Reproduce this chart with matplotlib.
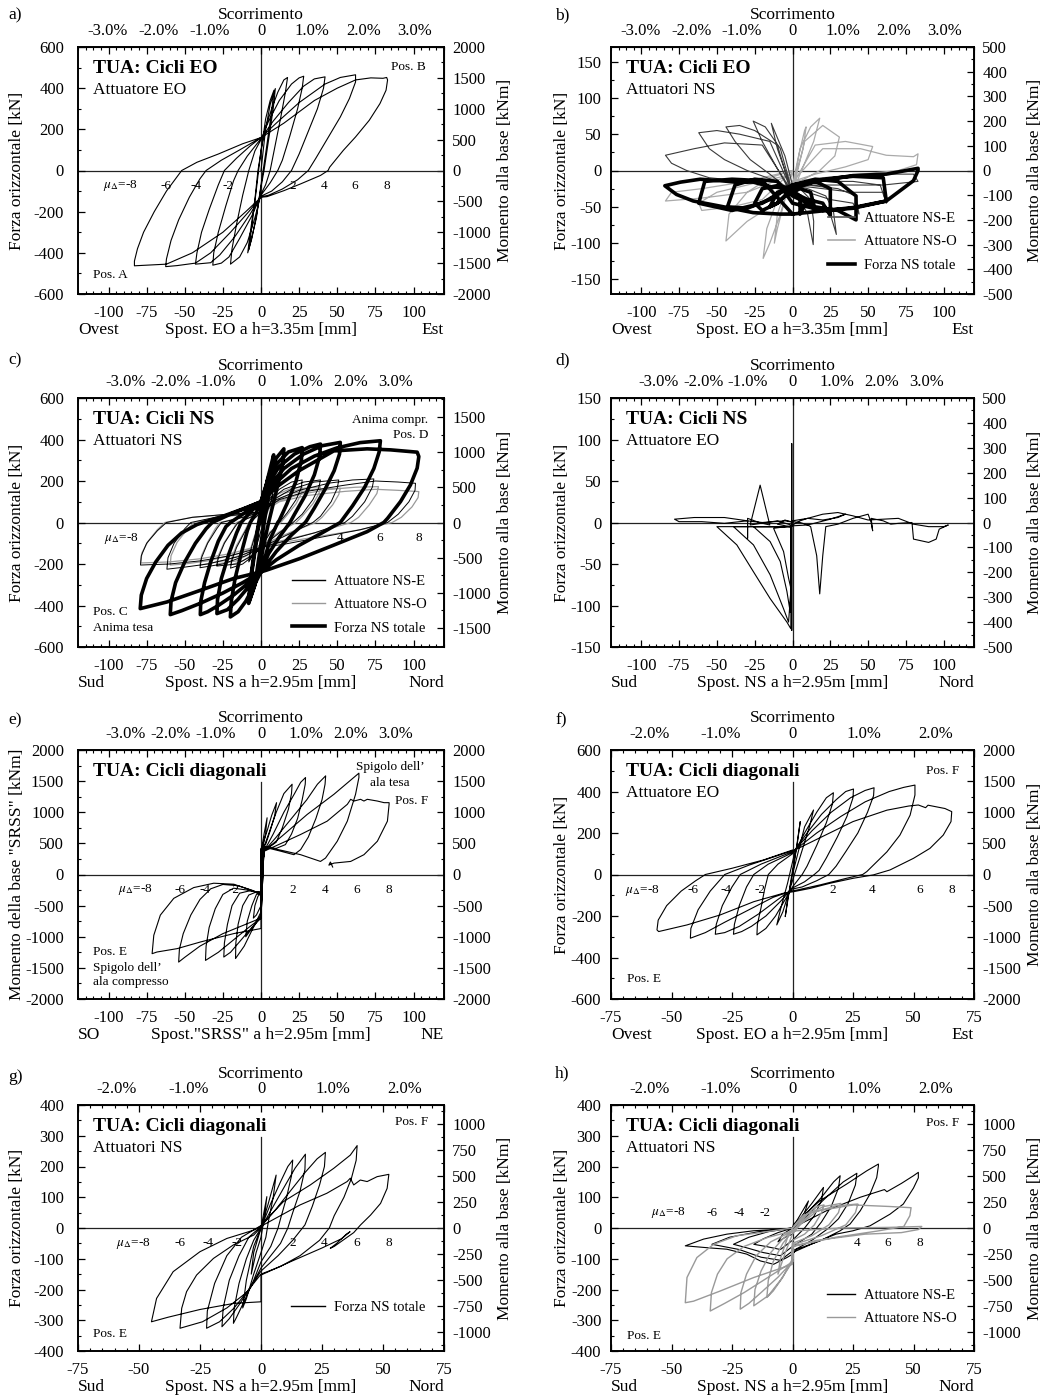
## Cicli isteretici TUA - 8 pannelli (a-h)
import matplotlib
matplotlib.use("Agg")
import matplotlib.pyplot as plt
from matplotlib.ticker import MultipleLocator, AutoMinorLocator
from matplotlib.lines import Line2D

plt.rcParams["font.family"] = ["Liberation Serif", "DejaVu Serif"]
plt.rcParams["mathtext.fontset"] = "stix"
plt.rcParams["axes.unicode_minus"] = False

# ---------------- dati (spostamento mm, forza kN) ----------------

# a) cicli EO, attuatore EO
a_eo = [
    (0, 0), (3, 200), (6, 320), (9.4, 398), (8, 300), (5, 150), (2, 0), (0, -80),
    (-3, -220), (-6, -330), (-8.7, -400), (-7, -300), (-4, -140), (-2, 0), (0, 90),
    (3, 250), (6, 340), (8.5, 390), (7, 290), (3, 80), (0, -70),
    (-3, -230), (-8, -385), (-6, -270), (-3, -90), (0, 100),
    (3, 210), (7, 300), (11, 380), (15, 440), (17.4, 452), (16, 380), (13, 260), (9, 110), (6, 0), (3, -70), (0, -115),
    (-4, -230), (-9, -350), (-14, -420), (-20, -455), (-19, -380), (-16, -260), (-12, -120), (-8, 0), (-4, 95), (0, 150),
    (5, 240), (12, 340), (20, 420), (25, 450), (28, 458), (27, 400), (24, 300), (19, 170), (14, 50), (11, 0), (6, -60), (0, -120),
    (-6, -220), (-14, -330), (-21, -420), (-26, -450), (-31.6, -460), (-31, -400), (-28, -300), (-23, -170), (-18, -50), (-15, 0), (-9, 70), (0, 155),
    (8, 240), (18, 330), (28, 410), (35, 445), (42, 455), (41, 400), (37, 300), (31, 190), (25, 80), (20, 0), (14, -55), (7, -100), (0, -125),
    (-7, -210), (-17, -320), (-27, -410), (-33, -448), (-43, -455), (-42, -400), (-39, -300), (-34, -190), (-28, -70), (-24, 0), (-16, 60), (-7, 120), (0, 160),
    (10, 230), (25, 330), (42, 420), (52, 452), (62, 465), (62, 430), (58, 350), (52, 260), (44, 160), (36, 60), (31, 0), (24, -45), (14, -90), (5, -120), (0, -128),
    (-8, -200), (-20, -300), (-33, -400), (-43, -450), (-55, -462), (-62.5, -467), (-62, -430), (-59, -340), (-54, -240), (-47, -130), (-40, -40), (-36, 0), (-26, 50), (-14, 100), (0, 160),
    (15, 230), (35, 340), (50, 400), (62, 440), (72, 450), (80, 448), (82.4, 452), (83, 440), (82, 390), (78, 325), (71, 244), (62, 163), (54, 98), (45, 16), (44, 0), (39, -24), (26, -65), (15, -98), (4, -127), (0, -130),
    (-10, -200), (-25, -300), (-45, -400), (-62, -455), (-75, -460), (-83, -463), (-83, -440), (-81, -380), (-77, -300), (-70, -200), (-62, -100), (-52, 0), (-42, 40), (-28, 80), (-12, 130), (0, 160),
]

# b) cicli EO, attuatori NS
b_nse = [
    (0, -20), (-5, 20), (-12, 55), (-14, 65), (-10, 30), (-5, 0), (0, -30),
    (-8, 30), (-18, 60), (-26, 68), (-20, 40), (-12, 10), (-4, -20), (0, -35),
    (-10, 35), (-25, 55), (-35, 62), (-44, 60), (-38, 40), (-28, 15), (-15, -5), (0, -30),
    (-15, 40), (-35, 50), (-50, 55), (-62, 52), (-55, 30), (-45, 15), (-30, 0), (-10, -15), (0, -30),
    (-20, 35), (-45, 38), (-65, 30), (-84, 21), (-80, 10), (-70, 0), (-55, -10), (-30, -15), (0, -30),
    (5, -40), (10, -60), (13.7, -102), (14, -70), (12, -40), (5, -25), (0, -20),
    (5, -35), (15, -50), (25, -60), (29, -88), (27, -55), (22, -35), (10, -25), (0, -20),
    (10, -30), (25, -40), (40, -45), (44, -60), (42, -35), (30, -25), (10, -20), (0, -20),
    (20, -25), (40, -30), (60, -30), (62, -45), (58, -20), (40, -15), (20, -15), (0, -20),
    (30, -20), (60, -20), (83, -15), (80, -5), (60, -5), (30, -10), (0, -20),
]
b_nso = [
    (0, -20), (4, 20), (8, 55), (9, 60), (7, 30), (3, 0), (0, -30),
    (5, 30), (12, 60), (18, 72), (14, 40), (8, 10), (2, -20), (0, -30),
    (8, 40), (20, 62), (31, 46), (28, 20), (18, 0), (5, -15), (0, -20),
    (15, 35), (35, 40), (53, 33), (50, 15), (35, 5), (15, -5), (0, -15),
    (20, 30), (45, 30), (62, 21), (80, 19), (83, 23), (82, 8), (70, 0), (45, -5), (20, -10), (0, -15),
    (-5, -40), (-10, -80), (-12, -100), (-10, -60), (-5, -30), (0, 0),
    (-8, -60), (-15, -100), (-19.4, -121), (-17, -80), (-10, -40), (0, -5),
    (-15, -50), (-30, -70), (-44, -97), (-42, -60), (-30, -30), (-15, -10), (0, 0),
    (-20, -40), (-40, -50), (-60, -55), (-62, -45), (-50, -30), (-30, -20), (0, -5),
    (-30, -30), (-60, -38), (-84, -42), (-80, -30), (-60, -25), (-30, -15), (0, 0),
]
b_tot = [
    (0, -30), (5, -35), (5, -60), (10, -40), (15, -55), (12, -30), (5, -25), (0, -30), (-5, -35), (-10, -45), (-15, -50), (-10, -30), (-3, -25),
    (0, -30), (10, -40), (20, -45), (25, -62), (25, -25), (15, -15), (0, -25), (-10, -45), (-20, -55), (-25, -45), (-20, -25), (-8, -20),
    (0, -35), (15, -50), (30, -55), (42, -68), (42, -35), (30, -15), (15, -12), (0, -20), (-15, -40), (-30, -52), (-43, -50), (-38, -20), (-25, -12), (-10, -15),
    (0, -45), (20, -55), (40, -52), (62, -42), (60, -10), (40, -8), (20, -12), (0, -20), (-20, -45), (-40, -55), (-62, -45), (-58, -15), (-40, -12), (-20, -14),
    (0, -60), (18, -56), (40, -51), (62, -42), (80, -14), (83, 0), (83, 3), (62, -5), (40, -7), (18, -14), (0, -23),
    (-13, -23), (-26, -16), (-37, -16), (-48, -14), (-61, -12), (-74, -16), (-84.4, -21),
    (-76.7, -33), (-65.6, -42), (-48, -49), (-26, -58), (-8.4, -60), (0, -60),
]

# c) cicli NS, attuatori NS
c_nse = [
    (0, 0), (4, 100), (8, 160), (7, 110), (3, 30), (0, -40), (-4, -140), (-8, -190), (-7, -140), (-3, -40), (0, 30),
    (0, 50), (5, 110), (12, 160), (20, 195), (27, 205), (26.5, 170), (23, 110), (17, 45), (12, 0), (6, -50), (0, -120),
    (-5, -160), (-12, -200), (-20, -220), (-19, -180), (-16, -120), (-11, -50), (-7, 0), (0, 50),
    (6, 110), (15, 160), (28, 195), (39, 205), (38, 170), (34, 110), (27, 40), (21, 0), (12, -50), (0, -120),
    (-7, -165), (-16, -200), (-29, -210), (-28, -170), (-24, -100), (-18, -30), (-15, 0), (-7, 25), (0, 50),
    (8, 110), (20, 160), (35, 195), (51, 205), (50, 165), (46, 100), (39, 30), (34, 0), (20, -50), (0, -120),
    (-10, -160), (-25, -200), (-40, -218), (-39, -170), (-35, -100), (-29, -30), (-26, 0), (-12, 25), (0, 50),
    (10, 110), (25, 155), (45, 190), (60, 205), (74, 210), (73, 170), (68, 100), (60, 30), (55, 0), (35, -50), (15, -90), (0, -120),
    (-15, -165), (-35, -200), (-50, -215), (-61.7, -225), (-61, -170), (-57, -100), (-50, -30), (-46, 0), (-30, 25), (-12, 40), (0, 50),
    (12, 110), (30, 150), (55, 180), (75, 200), (90, 195), (101.3, 189), (101, 155), (97, 100), (90, 40), (83, 0), (65, -35), (40, -70), (15, -105), (0, -120),
    (-20, -160), (-40, -185), (-60, -200), (-79, -205), (-78.5, -160), (-75, -100), (-68, -40), (-62, 0), (-45, 25), (-22, 40), (0, 50),
]
c_nso = [
    (0, 0), (4, 90), (8, 150), (7, 100), (3, 25), (0, -40), (-4, -130), (-8, -185), (-7, -130), (-3, -35), (0, 25),
    (5, 100), (12, 140), (20, 165), (27, 170), (26.5, 140), (23, 90), (17, 35), (13, 0), (6, -45), (0, -110),
    (-5, -150), (-12, -185), (-20, -205), (-19, -165), (-16, -110), (-11, -45), (-8, 0), (0, 45),
    (6, 100), (15, 140), (28, 165), (39, 172), (38, 140), (34, 90), (27, 30), (23, 0), (12, -45), (0, -110),
    (-7, -150), (-16, -185), (-29, -200), (-28, -160), (-24, -95), (-18, -30), (-16, 0), (-7, 25), (0, 45),
    (8, 100), (20, 140), (35, 160), (52, 165), (51, 135), (47, 85), (40, 25), (36, 0), (20, -45), (0, -110),
    (-10, -150), (-25, -185), (-40, -205), (-39, -160), (-35, -95), (-30, -30), (-27, 0), (-12, 25), (0, 45),
    (10, 100), (25, 135), (45, 160), (62, 170), (77, 173), (76, 140), (71, 85), (64, 25), (59, 0), (38, -45), (15, -85), (0, -110),
    (-15, -150), (-35, -185), (-50, -200), (-59.5, -205), (-59, -160), (-55, -95), (-48, -30), (-44, 0), (-28, 25), (-12, 38), (0, 45),
    (12, 100), (30, 130), (55, 150), (75, 160), (90, 155), (103.5, 149), (103, 120), (99, 75), (92, 25), (86, 0), (65, -35), (40, -65), (15, -95), (0, -110),
    (-20, -150), (-40, -175), (-60, -190), (-79, -195), (-78, -145), (-74, -90), (-68, -35), (-63, 0), (-45, 25), (-22, 38), (0, 45),
]
c_tot = [
    (0, 0), (4, 200), (8.3, 326), (7, 230), (4, 90), (2, 0), (0, -100), (-4, -300), (-8.1, -390), (-7, -290), (-4, -140), (-2, -30), (0, 20),
    (0, 100), (5, 220), (10, 310), (15, 355), (14.5, 290), (11, 180), (7, 60), (5, 0), (2, -100), (0, -180), (-4, -300), (-8, -385), (-7, -280), (-4, -120), (-2, -20), (0, 60),
    (0, 100), (4, 190), (10, 280), (18, 340), (27, 361), (26.5, 300), (23, 200), (17, 90), (12, 10), (11, 0), (6, -80), (0, -238),
    (-5, -310), (-10, -380), (-15, -430), (-20.1, -455), (-19.5, -380), (-17, -270), (-13, -150), (-9, -40), (-7, 0), (-3, 50), (0, 100),
    (5, 190), (12, 270), (22, 330), (32, 365), (39, 378), (38.5, 320), (35, 230), (29, 130), (22, 40), (19, 0), (12, -70), (5, -150), (0, -238),
    (-7, -300), (-15, -370), (-22, -420), (-28.9, -439), (-28.5, -370), (-26, -270), (-21, -150), (-16, -50), (-13, 0), (-7, 50), (0, 100),
    (6, 180), (15, 260), (28, 330), (40, 370), (52, 386), (51.5, 330), (48, 250), (42, 160), (35, 70), (30, 10), (29, 0), (20, -60), (10, -140), (0, -238),
    (-8, -290), (-18, -350), (-28, -400), (-35, -430), (-39.8, -444), (-39.5, -380), (-37, -290), (-33, -190), (-28, -90), (-23, -20), (-20, 0), (-12, 40), (0, 100),
    (8, 180), (20, 260), (35, 320), (50, 360), (65, 385), (78.3, 394), (77.5, 340), (74, 260), (68, 170), (60, 80), (54, 20), (52, 0), (40, -50), (25, -110), (10, -180), (0, -238),
    (-12, -290), (-25, -340), (-40, -390), (-52, -425), (-59.5, -444), (-59, -380), (-56, -290), (-50, -190), (-43, -100), (-36, -30), (-32, 0), (-20, 40), (-8, 75), (0, 100),
    (10, 170), (25, 250), (47.7, 345), (69.6, 355), (85, 350), (102.4, 339), (103.5, 318), (102.4, 262), (98, 181), (91.5, 101), (83, 20), (80.5, 0),
    (69.6, -44), (47.7, -109), (25.8, -173), (3.9, -229), (0, -238),
    (-18, -270), (-39.8, -327), (-61.7, -383), (-79.2, -415), (-78.5, -350), (-75, -270), (-69, -190), (-61, -110), (-52, -50), (-42, -10), (-38, 0), (-25, 30), (-12, 65), (0, 100),
]

# d) cicli NS, attuatore EO
d_eo = [
    (0, 0), (-5, 3), (-10, -2), (-2, -5), (5, 2), (10, 5), (20, 3), (30, 6), (35, 10), (25, 4), (10, -3), (0, -4),
    (-0.5, -4), (-0.5, 95), (-0.5, -130), (-0.5, -4),
    (-12.5, -7), (-5.9, -35), (-2.6, -67), (-1, -80), (-1, -5),
    (-25.8, -5), (-14.8, -23), (-8.1, -47), (-3.7, -83), (-1.5, -108), (-1, -60), (-1, -5),
    (-39, -5), (-25.8, -27), (-14.8, -63), (-5.9, -104), (-2.6, -120), (-1, -80), (-1, -5),
    (-50, -5), (-36.8, -27), (-25.8, -59.4), (-14.8, -91.6), (-3.7, -120), (-1.1, -128), (-1, -90), (-1, -3),
    (-10, 2), (-28, -3), (-21.4, 45), (-15, -3), (-22, 0), (-29.7, 5), (-29.7, -19), (-29.7, 2),
    (-45, 6), (-65, 6), (-78, 4), (-75, 1), (-60, 1), (-45, -1), (-30, 2), (-20, 0), (-5, 2),
    (5, 0), (10, -3), (12, -5), (16, -40), (18, -86), (20, -40), (22, -5), (30, -2), (40, 5), (50, 10), (52, 0), (53, -10), (52, 5),
    (60, 2), (65, -2), (70, -1), (79, 0), (80, -20), (85, -22), (90, -24), (95, -20), (97, -8), (103, -3), (100, -5),
    (90, -5), (80, -2), (70, 5), (60, 4), (50, 3), (40, 8), (30, 12), (20, 10), (10, 5), (0, 2),
]

# e) cicli diagonali, momento SRSS [kNm]
e_srss = [
    (0, 0), (0, 350), (2, 650), (4, 911), (3, 650), (1, 420), (0, 400), (0, -500), (-3, -650), (-5, -700), (-4, -500), (-2, -350), (0, -300),
    (0, 400), (4, 700), (7, 950), (10.2, 1154), (9, 950), (6, 700), (3, 480), (0, 420),
    (0, -600), (-4, -800), (-10, -1000), (-9, -750), (-6, -500), (-3, -320), (0, -300),
    (1, 380), (5, 650), (10, 1000), (15, 1300), (20.4, 1450), (20, 1300), (18, 1050), (14, 750), (10, 520), (6, 450), (1, 440),
    (0, -650), (-5, -850), (-11, -1150), (-16.7, -1350), (-16.5, -1100), (-15, -800), (-12, -500), (-8, -330), (-3, -280), (0, -280),
    (1.9, 372), (8, 650), (15, 1000), (22, 1300), (26, 1480), (29.2, 1558), (29, 1450), (27, 1200), (24, 900), (20, 650), (16, 480), (10, 420), (2, 430),
    (0, -700), (-6, -850), (-13, -1050), (-20, -1250), (-24.4, -1326), (-24, -1100), (-22, -800), (-19, -500), (-14, -300), (-7, -260), (0, -290),
    (1.9, 372), (10, 600), (20, 900), (30, 1200), (37, 1450), (42.4, 1585), (42, 1450), (40, 1200), (36, 900), (31, 600), (26, 400), (21.6, 318), (12, 380), (2, 440),
    (0, -700), (-8, -850), (-18, -1050), (-28, -1250), (-36.4, -1380), (-36, -1150), (-34, -850), (-30, -550), (-25, -320), (-18, -220), (-9, -250), (0, -300),
    (1.9, 372), (15, 642), (30.3, 965), (47.8, 1288), (60.9, 1558), (64.2, 1628), (64.2, 1558), (62, 1288), (56.6, 857), (50, 534), (42.3, 264), (39, 210), (26, 318), (15, 380), (2, 450),
    (0, -700), (-10, -800), (-25, -950), (-40, -1150), (-50, -1330), (-54, -1407), (-53.5, -1200), (-51, -950), (-46, -650), (-40, -400), (-33, -230), (-25, -160), (-15, -180), (-5, -260), (0, -320),
    (0, -868), (-17.8, -949), (-39.7, -1084), (-55, -1191), (-68.2, -1245), (-71.4, -1272), (-70.3, -976), (-66, -652), (-57.2, -383), (-44.1, -210), (-31, -140), (-17.8, -156), (-6.9, -248), (0, -329),
    (1.9, 372), (25.9, 642), (43.4, 857), (56.6, 1127), (58.8, 1208), (61, 1180), (65.3, 1208), (67.5, 1180), (69.7, 1208), (76.3, 1180), (80.7, 1154), (84, 1154),
    (84, 1127), (82.9, 857), (76.3, 534), (67.5, 318), (58.8, 210), (47.8, 183), (44.5, 150), (45.5, 200), (47, 120),
]

# f) cicli diagonali, attuatore EO
f_eo = [
    (0, 0), (3.2, 255), (2, 150), (0, 20), (-3, -203), (-2, -120), (0, 0),
    (5, 230), (8.7, 311), (7, 230), (3, 80), (0, -30), (-4, -180), (-6.5, -243), (-5, -170), (-2, -40), (0, 60),
    (1, 110), (5, 200), (10, 300), (14, 370), (16.9, 394), (16.5, 340), (14, 250), (10, 140), (6, 40), (4, 0), (0, -60),
    (-3, -120), (-7, -200), (-11, -260), (-14.7, -291), (-14.5, -240), (-13, -160), (-11.5, -70), (-10, 0), (-6, 50), (0, 100),
    (1, 118), (6, 200), (12, 290), (18, 360), (22, 400), (25.2, 412), (25, 370), (22.5, 280), (18.5, 180), (14, 80), (11, 20), (9, 0), (5, -35), (0, -65),
    (-5, -130), (-11, -200), (-17, -250), (-21, -275), (-24.4, -288), (-24, -240), (-22, -150), (-19, -60), (-16, 0), (-10, 50), (0, 105),
    (1, 118), (8, 210), (16, 300), (24, 370), (30, 405), (33.7, 418), (33.5, 380), (31, 300), (27, 200), (22, 110), (18, 40), (15, 0), (10, -30), (4, -60), (0, -70),
    (-6, -120), (-14, -190), (-22, -250), (-28, -280), (-31.9, -288), (-31.5, -240), (-29, -150), (-25, -60), (-21.6, 0), (-13, 50), (0, 110),
    (1, 118), (10, 200), (20, 280), (30, 350), (40, 400), (46, 420), (50.6, 431), (50.6, 383), (48.6, 286), (44.4, 190), (39, 109), (33.4, 45), (30.7, 14), (29, 0),
    (22.4, -18), (11.4, -50), (1.8, -75), (0, -78),
    (-8, -110), (-18, -170), (-28, -230), (-36, -280), (-42.2, -307), (-42, -260), (-39, -170), (-34, -80), (-28, 0), (-18, 45), (0, 115),
    (1, 118), (11, 175), (25, 255), (39, 310), (48, 330), (52, 335), (55, 322), (56, 334), (60, 325), (63, 318), (65.8, 303),
    (65.5, 255), (62.3, 190), (56.8, 126), (50, 78), (40.3, 22), (33.4, -2), (25.2, -18), (15.6, -42), (7.3, -67), (0.4, -83),
    (-3.7, -90), (-16, -131), (-29.9, -195), (-43.6, -243), (-55.3, -275), (-56, -267),
    (-55.5, -220), (-52, -150), (-46, -80), (-40, -30), (-36, 0), (-25, 30), (-12, 70), (0, 118),
]

# g) cicli diagonali, forza NS totale
g_ns = [
    (0, 0), (2.4, 102), (1.5, 40), (0, -30), (-2, -80), (-4, -150), (-3, -80), (0, 0),
    (3, 80), (6.2, 172), (5, 100), (3, 20), (2, -30), (0, -80),
    (-3, -150), (-6, -230), (-7.5, -260), (-6, -170), (-3, -60), (0, 0),
    (4, 80), (8, 150), (11, 200), (13, 221), (12.5, 170), (10.5, 100), (8, 30), (7, 0), (4, -60), (0, -110),
    (-3, -170), (-7, -240), (-10, -290), (-11.3, -310), (-11, -260), (-9, -180), (-6, -100), (-3, -40), (0, 0),
    (5, 70), (10, 140), (14, 195), (18.2, 240), (18, 190), (16, 120), (13, 50), (11, 0), (8, -50), (3, -100), (0, -130),
    (-4, -190), (-9, -250), (-13, -295), (-16, -321), (-15.5, -260), (-13, -170), (-9, -90), (-5, -30), (0, 5),
    (6, 60), (12, 120), (18, 180), (23, 225), (26.4, 246), (26, 200), (24, 140), (21, 70), (18, 10), (17, 0), (13, -40), (7, -90), (0, -140),
    (-5, -200), (-11, -260), (-17, -305), (-22.3, -326), (-22, -270), (-19, -180), (-14, -90), (-8, -30), (0, 8),
    (9.2, 86), (20.2, 140), (29.8, 194), (36.6, 237), (39.4, 268), (39, 220), (37, 160), (34, 100), (30, 40), (28, 0), (24, -40), (16, -90), (8, -125), (0, -150),
    (-6, -210), (-14, -260), (-24, -305), (-33.2, -326), (-32.5, -261), (-30.5, -207), (-26.4, -153), (-19.5, -99), (-11.3, -55), (-3, -23), (1, 10),
    (16, 75), (27, 113), (35.3, 151), (36.6, 162), (38, 140), (40.7, 156), (43.5, 151), (47.6, 167), (52.4, 174.5),
    (51.7, 129), (49, 80), (44.9, 42), (40.8, 10), (38, -15), (30, -60), (28.4, -66), (31, -50), (35, -20), (36.5, -12), (33, -35),
    (25, -65), (12, -110), (0, -153),
    (0, -240), (-11, -245), (-25, -265), (-38, -290), (-44.9, -305), (-42.8, -229), (-36, -142), (-25, -77), (-14, -34), (-3, -7), (1, 10),
]

# h) cicli diagonali, attuatori NS
h_nse = [
    (0, 0), (3, 40), (6.6, 88), (5, 50), (2, 10), (0, -20), (-3, -30), (-6, -45), (-4, -20), (0, 0),
    (4, 40), (8, 80), (12.8, 132), (12, 90), (9, 40), (5, 0), (0, -40),
    (-5, -70), (-11, -60), (-16, -53), (-12, -35), (-6, -15), (0, 0),
    (5, 40), (12, 100), (17, 150), (19.7, 170), (19, 130), (16, 70), (12, 20), (8, -20), (0, -60),
    (-5, -90), (-12, -80), (-20, -62), (-24.4, -53), (-18, -30), (-10, -12), (0, 0),
    (6, 40), (14, 100), (21, 150), (26.6, 178), (26, 140), (23, 80), (19, 30), (15, 0), (8, -40), (0, -75),
    (-5, -105), (-13, -95), (-22, -70), (-33.3, -53), (-26, -30), (-14, -12), (0, 0),
    (0.4, 12), (11.4, 89), (22.4, 143), (30.7, 186), (35.5, 208), (35.5, 202), (34.8, 164), (32, 110), (28, 56), (23.8, 13), (19.7, -9), (11.4, -42), (1.8, -69), (0, -85),
    (-2.3, -96), (-7.8, -118), (-13.3, -107), (-18.9, -85), (-27.1, -69), (-35.4, -64), (-44.3, -58),
    (-36.7, -36), (-27.1, -20), (-16.1, -9), (-5.1, -4), (0, 0),
    (15, 60), (28, 100), (38, 125), (39, 118), (45, 145), (50, 170), (52, 181), (52, 163), (50, 130), (45.8, 78), (40.3, 45), (32, 7), (25, -9), (18, -20), (10, -45), (0, -80),
]
h_nso = [
    (0, 0), (3, 30), (5, 45), (3, 10), (0, -20), (-3, -80), (-6, -150), (-5, -100), (-2, -30), (0, 0),
    (5, 40), (10, 70), (13, 75), (12, 50), (9, 10), (5, -20), (0, -40), (0, -100),
    (-4, -160), (-8, -205), (-10.6, -226), (-10, -170), (-8, -110), (-4, -50), (0, -10),
    (6, 45), (13, 70), (20, 80), (19, 50), (15, 10), (8, -25), (0, -50), (0, -110),
    (-5, -170), (-10, -220), (-16, -253), (-15.5, -200), (-13, -140), (-9, -80), (-4, -35), (0, -10),
    (8, 50), (18, 72), (27, 78), (26, 50), (22, 10), (12, -25), (0, -55), (0, -110),
    (-6, -160), (-13, -210), (-18, -245), (-21.6, -264), (-21.3, -210), (-19, -150), (-15, -90), (-9, -45), (0, -10),
    (10, 55), (25, 75), (40, 70), (49, 66), (48.5, 40), (46, 5), (35, -10), (18, -30), (0, -60), (0, -110),
    (-10, -160), (-20, -210), (-28, -245), (-34, -270), (-33.5, -210), (-31, -150), (-27, -100), (-20, -60), (-10, -30), (0, -10),
    (20, 0), (40, 2), (53.4, 5), (52, -5), (45, -15), (30, -20), (10, -40), (0, -60), (0, -118),
    (-16, -161), (-29.9, -205), (-40.9, -238), (-44.3, -243), (-43.6, -161), (-39.5, -96), (-32.6, -53), (-23, -25), (-13.3, -15), (-3.7, -4), (0, 0),
]

# etichette duttilita' (posizione x in mm)
a_mu = [-62.5, -42.3, -21.6, 21, 41.4, 61.6, 82.4]
c_mu = [52, 77.7, 103.5]
e_mu = [-52.8, -36.4, -17.8, 21, 42.3, 63, 84]
f_mu = [-41, -27.4, -13.6, 16.5, 33, 52.7, 65.8]
g_mu = [-33.2, -21.6, -9.9, 13, 26, 39.4, 52.4]
h_mu_neg = [-33.3, -22.3, -11.3]
h_mu_pos = [26.6, 39.4, 52.7]
mu_txt = ["-6", "-4", "-2", "2", "4", "6", "8"]

PCT3 = [-3, -2, -1, 0, 1, 2, 3]
PCT2 = [-2, -1, 0, 1, 2]

W, H = 1045, 1398


def trace(ax, pts, **kw):
    xs = [p[0] for p in pts]
    ys = [p[1] for p in pts]
    ax.plot(xs, ys, solid_joinstyle="round", **kw)


def pct_label(p):
    return "0" if p == 0 else "%.1f%%" % p


def frame(ax, xmax, ymax, ystep, ratio, rmax, rstep, h, pct, xlabel, west, east,
          ylabel, rlabel, vtop, left_col):
    ax.set_xlim(-xmax, xmax)
    ax.set_ylim(-ymax, ymax)
    ax.xaxis.set_major_locator(MultipleLocator(25))
    ax.xaxis.set_minor_locator(MultipleLocator(5))
    ax.yaxis.set_major_locator(MultipleLocator(ystep))
    ax.yaxis.set_minor_locator(AutoMinorLocator(2))
    ax.tick_params(which="both", direction="in", top=True, right=False, labelsize=12)
    ax.tick_params(which="major", length=5, width=0.9)
    ax.tick_params(which="minor", length=2.5, width=0.8)
    ax.tick_params(axis="x", pad=8)
    ax.tick_params(axis="y", pad=10 if left_col else 7)
    for s in ax.spines.values():
        s.set_linewidth(1.4)
    ax.axhline(0, color="#222222", lw=0.9, zorder=1)
    ax.axvline(0, ymax=vtop, color="#222222", lw=0.9, zorder=1)

    top = ax.secondary_xaxis("top", functions=(lambda x: x / (h * 10), lambda p: p * h * 10))
    top.set_xticks(pct, labels=[pct_label(p) for p in pct])
    top.tick_params(length=0, labelsize=12, pad=6)
    ax.text(0.5, 1.128, "Scorrimento", transform=ax.transAxes, ha="center", va="center", fontsize=12.5)

    right = ax.secondary_yaxis("right", functions=(lambda f: f * ratio, lambda m: m / ratio))
    rt = list(range(-rmax, rmax + 1, rstep))
    right.set_yticks(rt)
    right.yaxis.set_minor_locator(AutoMinorLocator(2))
    right.tick_params(which="both", direction="in", labelsize=12, pad=6)
    right.tick_params(which="major", length=5, width=0.9)
    right.tick_params(which="minor", length=2.5, width=0.8)
    if rlabel:
        ax.text(1.167, 0.5, rlabel, transform=ax.transAxes, rotation=90,
                ha="center", va="center", fontsize=12.5)

    ax.text(-0.167 if left_col else -0.136, 0.5, ylabel, transform=ax.transAxes, rotation=90,
            ha="center", va="center", fontsize=12.5)
    ax.text(0.5, -0.145, xlabel, transform=ax.transAxes, ha="center", va="center", fontsize=12.5)
    ax.text(0.0, -0.145, west, transform=ax.transAxes, ha="left", va="center", fontsize=12.5)
    ax.text(1.0, -0.145, east, transform=ax.transAxes, ha="right", va="center", fontsize=12.5)


def titles(ax, title, sub):
    ax.text(0.042, 0.912, title, transform=ax.transAxes, fontsize=14, fontweight="bold", va="center")
    if sub:
        ax.text(0.042, 0.826, sub, transform=ax.transAxes, fontsize=12.5, va="center")


def note(ax, x, y, s, ha="left"):
    ax.text(x, y, s, transform=ax.transAxes, fontsize=9.5, ha=ha, va="center")


def mu_labels(ax, xs, txt, y, x8):
    for x, t in zip(xs, txt):
        ax.text(x, y, t, fontsize=9.5, ha="center", va="center")
    if x8 is not None:
        ax.text(x8, y, r"$\mu_\Delta$=-8", fontsize=9.5, ha="right", va="center")


def legend(ax, items, x, y, hl):
    hs = [Line2D([], [], color=c, lw=lw) for c, lw, _ in items]
    ax.legend(hs, [t for _, _, t in items], loc="lower right", bbox_to_anchor=(x, y),
              frameon=False, fontsize=10.5, handlelength=hl, handletextpad=0.6,
              labelspacing=0.7, borderaxespad=0, borderpad=0)


fig = plt.figure(figsize=(W / 100, H / 100), dpi=100)

cols = [78, 611]
widths = [366, 363]
rows = [(47, 294), (398, 647), (750, 999), (1105, 1351)]
axs = []
for top_px, bot_px in rows:
    for c in range(2):
        axs.append(fig.add_axes([cols[c] / W, 1 - bot_px / H, widths[c] / W, (bot_px - top_px) / H]))
ax_a, ax_b, ax_c, ax_d, ax_e, ax_f, ax_g, ax_h = axs

FO = "Forza orizzontale [kN]"
MB = "Momento alla base [kNm]"

# a)
frame(ax_a, 120, 600, 200, 2000 / 600, 2000, 500, 3.35, PCT3, "Spost. EO a h=3.35m [mm]", "Ovest", "Est", FO, MB, 1.0, True)
trace(ax_a, a_eo, color="black", lw=0.8)
titles(ax_a, "TUA: Cicli EO", "Attuatore EO")
note(ax_a, 0.95, 0.92, "Pos. B", "right")
note(ax_a, 0.042, 0.077, "Pos. A")
mu_labels(ax_a, a_mu, mu_txt, -73, -81)

# b)
frame(ax_b, 120, 170, 50, 500 / 170, 500, 100, 3.35, PCT3, "Spost. EO a h=3.35m [mm]", "Ovest", "Est", FO, MB, 1.0, False)
trace(ax_b, b_nso, color="#aaaaaa", lw=0.9)
trace(ax_b, b_nse, color="#3a3a3a", lw=0.8)
trace(ax_b, b_tot, color="black", lw=2.6)
titles(ax_b, "TUA: Cicli EO", "Attuatori NS")
legend(ax_b, [("#555555", 1.2, "Attuatore NS-E"), ("#aaaaaa", 1.2, "Attuatore NS-O"), ("black", 2.6, "Forza NS totale")], 0.953, 0.09, 1.9)

# c)
frame(ax_c, 120, 600, 200, 2.95, 1500, 500, 2.95, PCT3, "Spost. NS a h=2.95m [mm]", "Sud", "Nord", FO, MB, 1.0, True)
trace(ax_c, c_nso, color="#999999", lw=0.9)
trace(ax_c, c_nse, color="black", lw=0.7)
trace(ax_c, c_tot, color="black", lw=2.6)
titles(ax_c, "TUA: Cicli NS", "Attuatori NS")
note(ax_c, 0.956, 0.91, "Anima compr.", "right")
note(ax_c, 0.956, 0.85, "Pos. D", "right")
note(ax_c, 0.042, 0.14, "Pos. C")
note(ax_c, 0.042, 0.078, "Anima tesa")
mu_labels(ax_c, c_mu, ["4", "6", "8"], -76, -80)
legend(ax_c, [("black", 1.0, "Attuatore NS-E"), ("#999999", 1.0, "Attuatore NS-O"), ("black", 2.6, "Forza NS totale")], 0.953, 0.05, 2.3)

# d)
frame(ax_d, 120, 150, 50, 500 / 150, 500, 100, 2.95, PCT3, "Spost. NS a h=2.95m [mm]", "Sud", "Nord", FO, MB, 1.0, False)
trace(ax_d, d_eo, color="black", lw=0.8)
titles(ax_d, "TUA: Cicli NS", "Attuatore EO")

# e)
frame(ax_e, 120, 2000, 500, 1.0, 2000, 500, 2.95, PCT3, 'Spost."SRSS" a h=2.95m [mm]', "SO", "NE",
      'Momento della base "SRSS" [kNm]', None, 0.87, True)
trace(ax_e, e_srss, color="black", lw=0.8)
titles(ax_e, "TUA: Cicli diagonali", None)
ax_e.text(0.853, 0.93, "Spigolo dell\u2019", transform=ax_e.transAxes, fontsize=9.5, ha="center", va="center")
ax_e.text(0.853, 0.866, "ala tesa", transform=ax_e.transAxes, fontsize=9.5, ha="center", va="center")
note(ax_e, 0.956, 0.795, "Pos. F", "right")
note(ax_e, 0.042, 0.19, "Pos. E")
note(ax_e, 0.042, 0.125, "Spigolo dell\u2019")
note(ax_e, 0.042, 0.068, "ala compresso")
mu_labels(ax_e, e_mu, mu_txt, -248, -71)

# f)
frame(ax_f, 75, 600, 200, 2000 / 600, 2000, 500, 2.95, PCT2, "Spost. EO a h=2.95m [mm]", "Ovest", "Est", FO, MB, 0.87, False)
trace(ax_f, f_eo, color="black", lw=0.8)
titles(ax_f, "TUA: Cicli diagonali", "Attuatore EO")
note(ax_f, 0.96, 0.915, "Pos. F", "right")
note(ax_f, 0.043, 0.08, "Pos. E")
mu_labels(ax_f, f_mu, mu_txt, -75, -55)

# g)
frame(ax_g, 75, 400, 100, 2.95, 1000, 250, 2.95, PCT2, "Spost. NS a h=2.95m [mm]", "Sud", "Nord", FO, MB, 0.87, True)
trace(ax_g, g_ns, color="black", lw=0.8)
titles(ax_g, "TUA: Cicli diagonali", "Attuatori NS")
note(ax_g, 0.956, 0.93, "Pos. F", "right")
note(ax_g, 0.042, 0.07, "Pos. E")
mu_labels(ax_g, g_mu, mu_txt, -50, -45)
legend(ax_g, [("black", 1.0, "Forza NS totale")], 0.948, 0.15, 2.3)

# h)
frame(ax_h, 75, 400, 100, 2.95, 1000, 250, 2.95, PCT2, "Spost. NS a h=2.95m [mm]", "Sud", "Nord", FO, MB, 0.87, False)
trace(ax_h, h_nse, color="black", lw=0.8)
trace(ax_h, h_nso, color="#999999", lw=1.0)
titles(ax_h, "TUA: Cicli diagonali", "Attuatori NS")
note(ax_h, 0.96, 0.926, "Pos. F", "right")
note(ax_h, 0.043, 0.063, "Pos. E")
mu_labels(ax_h, h_mu_neg, ["-6", "-4", "-2"], 50, -44)
mu_labels(ax_h, h_mu_pos, ["4", "6", "8"], -49, None)
legend(ax_h, [("black", 1.0, "Attuatore NS-E"), ("#999999", 1.0, "Attuatore NS-O")], 0.952, 0.104, 1.9)

# lettere dei pannelli
for lab, x, y in [("a)", 8, 15), ("b)", 555, 15), ("c)", 8, 360), ("d)", 555, 360),
                  ("e)", 8, 720), ("f)", 555, 720), ("g)", 8, 1077), ("h)", 555, 1073)]:
    fig.text(x / W, 1 - y / H, lab, fontsize=12.5, va="center", ha="left")

fig.savefig("out.png", dpi=100)
plt.close(fig)
